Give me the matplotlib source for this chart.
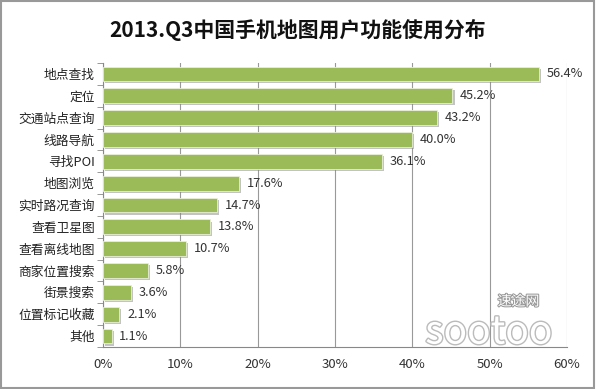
import matplotlib.pyplot as plt
import matplotlib.patheffects as pe
import numpy as np

plt.rcParams['font.family'] = ['Noto Sans CJK SC', 'DejaVu Sans']

# data
features = ['地点查找', '定位', '交通站点查询', '线路导航', '寻找POI', '地图浏览',
            '实时路况查询', '查看卫星图', '查看离线地图', '商家位置搜索', '街景搜索',
            '位置标记收藏', '其他']
share = [56.4, 45.2, 43.2, 40.0, 36.1, 17.6, 14.7, 13.8, 10.7, 5.8, 3.6, 2.1, 1.1]
xticks = [0, 10, 20, 30, 40, 50, 60]

fig = plt.figure(figsize=(5.96, 3.89), dpi=100)
ax = fig.add_axes([0.173, 0.108, 0.778, 0.73])

y = np.arange(len(features))
bars = ax.barh(y, share, height=0.68, color='#9BBB59', edgecolor='#e8f0d8', linewidth=0.6, zorder=3)
for b in bars:
    b.set_path_effects([pe.SimplePatchShadow(offset=(1.5, -1.5), shadow_rgbFace='#888888', alpha=0.5),
                        pe.Normal()])

for yi, v in zip(y, share):
    ax.text(v + 1.0, yi, f'{v:.1f}%', va='center', ha='left', fontsize=9.2, color='#333333')

ax.set_ylim(len(features) - 0.5, -0.5)
ax.set_xlim(0, 60)
ax.set_yticks(y)
ax.set_yticklabels(features, fontsize=9.2, color='#222222')
ax.set_yticks(np.arange(len(features) + 1) - 0.5, minor=True)
ax.tick_params(axis='y', which='major', length=0, pad=6)
ax.tick_params(axis='y', which='minor', length=4, color='#888888', direction='out')
ax.set_xticks(xticks)
ax.set_xticklabels([f'{t}%' for t in xticks], fontsize=9.5, color='#333333')
ax.tick_params(axis='x', length=0, pad=8)
ax.grid(axis='x', color='#999999', linewidth=0.8, zorder=0)

for s in ['top', 'right']:
    ax.spines[s].set_visible(False)
ax.spines['left'].set_color('#888888')
ax.spines['bottom'].set_color('#888888')

fig.text(0.5, 0.923, '2013.Q3中国手机地图用户功能使用分布', ha='center', va='center',
         fontsize=15, fontweight='bold', color='#111111')

# watermark
fig.text(0.82, 0.145, 'sootoo', fontsize=28, color='white', ha='center', va='center',
         style='italic', path_effects=[pe.withStroke(linewidth=2, foreground='#bbbbbb')])
fig.text(0.87, 0.225, '速途网', fontsize=10, color='white', ha='center', va='center',
         style='italic', path_effects=[pe.withStroke(linewidth=1.5, foreground='#999999')])

# outer frame
fig.patches.append(plt.Rectangle((0.002, 0.003), 0.995, 0.994, transform=fig.transFigure,
                                 fill=False, edgecolor='#999999', linewidth=1.5))

fig.savefig('out.png', dpi=100)
